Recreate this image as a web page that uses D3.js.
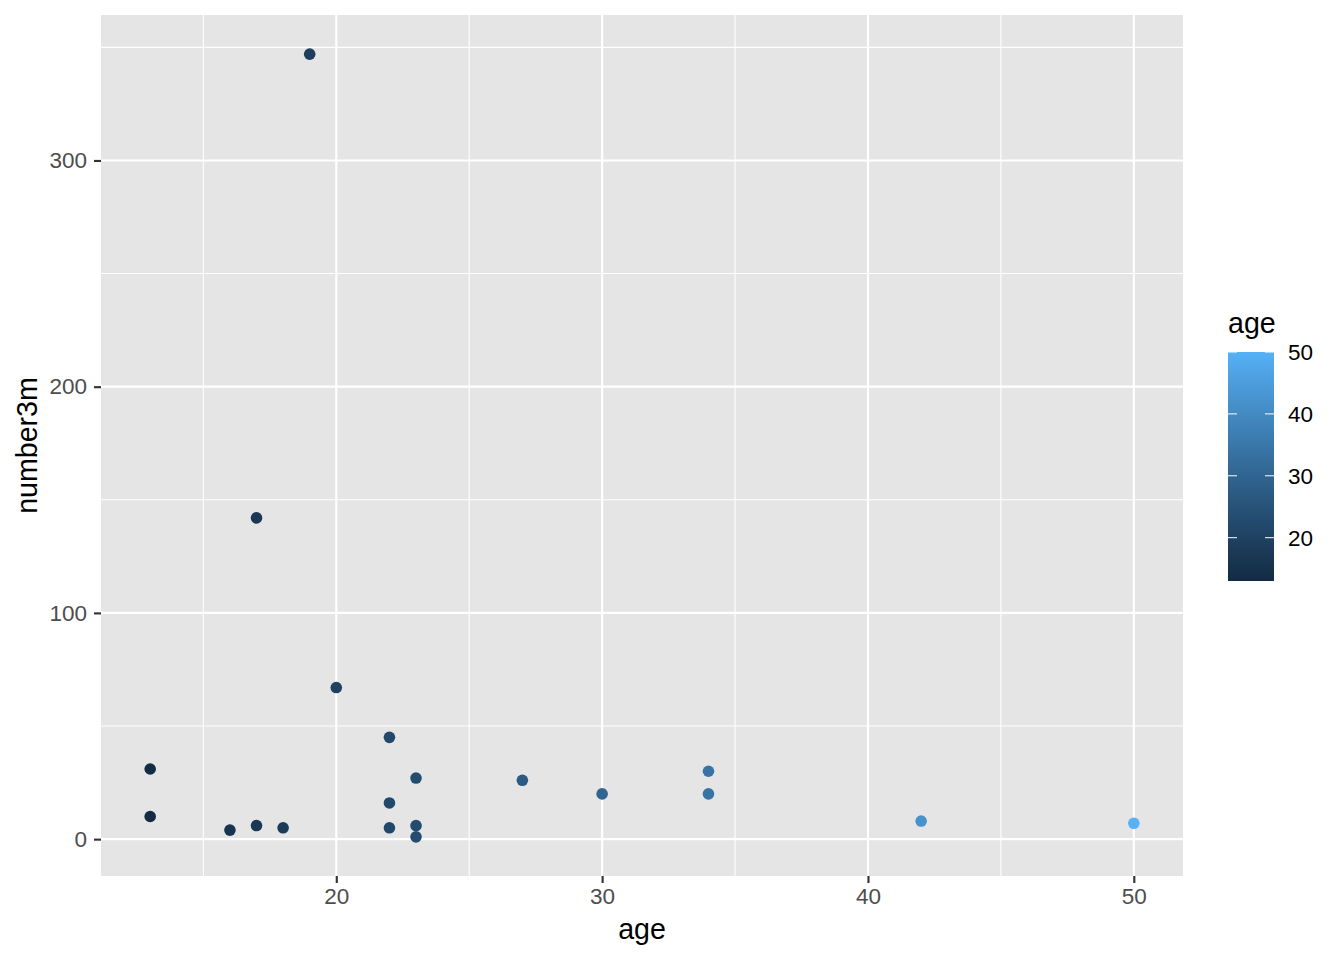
<!DOCTYPE html>
<html>
<head>
<meta charset="utf-8">
<script src="https://cdn.jsdelivr.net/npm/d3@7"></script>
<style>
  body { margin: 0; background: #fff; }
  svg text { font-family: "Liberation Sans", Arial, sans-serif; }
</style>
</head>
<body>
<div id="chart"></div>
<script>
// data
var ages    = [13, 13, 16, 17, 17, 18, 19, 20, 22, 22, 22, 23, 23, 23, 27, 30, 34, 34, 42, 50]
var number3m = [31, 10, 4, 6, 142, 5, 347, 67, 45, 16, 5, 27, 6, 1, 26, 20, 30, 20, 8, 7]
var xTicks = [20, 30, 40, 50]
var yTicks = [0, 100, 200, 300]
var xMinor = [15, 25, 35, 45]
var yMinor = [50, 150, 250, 350]
var legendTicks = [20, 30, 40, 50]

var width = 1344, height = 960
var panel = {left: 101, right: 1183, top: 15, bottom: 876}
var tickFont = 22.5, titleFont = 28.6

var svg = d3.select('#chart').append('svg').attr('width', width).attr('height', height)

// ggplot style 5% expansion
function expand (ext) {
  var d = (ext[1] - ext[0]) * 0.05
  return [ext[0] - d, ext[1] + d]
}
var x = d3.scaleLinear().domain(expand(d3.extent(ages))).range([panel.left, panel.right])
var y = d3.scaleLinear().domain(expand(d3.extent(number3m))).range([panel.bottom, panel.top])
var color = d3.scaleLinear().domain(d3.extent(ages)).range(['#132B43', '#56B1F7']).interpolate(d3.interpolateLab)

// panel background
svg.append('rect')
  .attr('x', panel.left).attr('y', panel.top)
  .attr('width', panel.right - panel.left).attr('height', panel.bottom - panel.top)
  .attr('fill', '#E5E5E5')

// grid
var grid = svg.append('g')
grid.selectAll('line.xminor').data(xMinor).enter().append('line')
  .attr('x1', d => x(d)).attr('x2', d => x(d)).attr('y1', panel.top).attr('y2', panel.bottom)
  .attr('stroke', '#fff').attr('stroke-width', 1.07)
grid.selectAll('line.yminor').data(yMinor).enter().append('line')
  .attr('y1', d => y(d)).attr('y2', d => y(d)).attr('x1', panel.left).attr('x2', panel.right)
  .attr('stroke', '#fff').attr('stroke-width', 1.07)
grid.selectAll('line.xmajor').data(xTicks).enter().append('line')
  .attr('x1', d => x(d)).attr('x2', d => x(d)).attr('y1', panel.top).attr('y2', panel.bottom)
  .attr('stroke', '#fff').attr('stroke-width', 2.13)
grid.selectAll('line.ymajor').data(yTicks).enter().append('line')
  .attr('y1', d => y(d)).attr('y2', d => y(d)).attr('x1', panel.left).attr('x2', panel.right)
  .attr('stroke', '#fff').attr('stroke-width', 2.13)

// axes
var xAxis = d3.axisBottom(x).tickValues(xTicks).tickSize(7).tickPadding(5)
var yAxis = d3.axisLeft(y).tickValues(yTicks).tickSize(7).tickPadding(7)

function styleAxis (g) {
  g.select('.domain').remove()
  g.selectAll('line').attr('stroke', '#333333').attr('stroke-width', 2.13)
  g.selectAll('text').attr('fill', '#4D4D4D').attr('font-size', tickFont)
    .attr('font-family', '"Liberation Sans", Arial, sans-serif')
}
svg.append('g').attr('transform', 'translate(0,' + panel.bottom + ')').call(xAxis).call(styleAxis)
svg.append('g').attr('transform', 'translate(' + panel.left + ',0)').call(yAxis).call(styleAxis)

// axis titles
svg.append('text')
  .attr('x', (panel.left + panel.right) / 2).attr('y', 939)
  .attr('text-anchor', 'middle').attr('font-size', titleFont).attr('fill', '#000')
  .text('age')
svg.append('text')
  .attr('transform', 'translate(37,' + (panel.top + panel.bottom) / 2 + ') rotate(-90)')
  .attr('text-anchor', 'middle').attr('font-size', titleFont).attr('fill', '#000')
  .text('number3m')

// points
svg.append('g').selectAll('circle')
  .data(ages.map((a, i) => ({age: a, n: number3m[i]})))
  .enter().append('circle')
  .attr('cx', d => x(d.age)).attr('cy', d => y(d.n))
  .attr('r', 5.8)
  .attr('fill', d => color(d.age))

// legend colourbar
var bar = {x: 1228, w: 46, top: 352, bottom: 581}
var lg = d3.scaleLinear().domain(d3.extent(ages)).range([bar.bottom, bar.top])

var grad = svg.append('defs').append('linearGradient').attr('id', 'cbar')
  .attr('x1', 0).attr('x2', 0).attr('y1', 1).attr('y2', 0)
d3.range(0, 1.0001, 0.05).forEach(t => {
  var v = d3.extent(ages)[0] + t * (d3.extent(ages)[1] - d3.extent(ages)[0])
  grad.append('stop').attr('offset', t).attr('stop-color', color(v))
})
svg.append('rect')
  .attr('x', bar.x).attr('y', bar.top).attr('width', bar.w).attr('height', bar.bottom - bar.top)
  .attr('fill', 'url(#cbar)')

var lt = svg.append('g')
lt.selectAll('line.l').data(legendTicks).enter().append('line')
  .attr('x1', bar.x).attr('x2', bar.x + 9).attr('y1', d => lg(d)).attr('y2', d => lg(d))
  .attr('stroke', '#fff').attr('stroke-width', 1)
lt.selectAll('line.r').data(legendTicks).enter().append('line')
  .attr('x1', bar.x + bar.w - 9).attr('x2', bar.x + bar.w).attr('y1', d => lg(d)).attr('y2', d => lg(d))
  .attr('stroke', '#fff').attr('stroke-width', 1)
lt.selectAll('text').data(legendTicks).enter().append('text')
  .attr('x', bar.x + bar.w + 14).attr('y', d => lg(d)).attr('dy', '0.36em')
  .attr('font-size', tickFont).attr('fill', '#000')
  .text(d => d)

svg.append('text')
  .attr('x', bar.x).attr('y', 333)
  .attr('font-size', titleFont).attr('fill', '#000')
  .text('age')
</script>
</body>
</html>
